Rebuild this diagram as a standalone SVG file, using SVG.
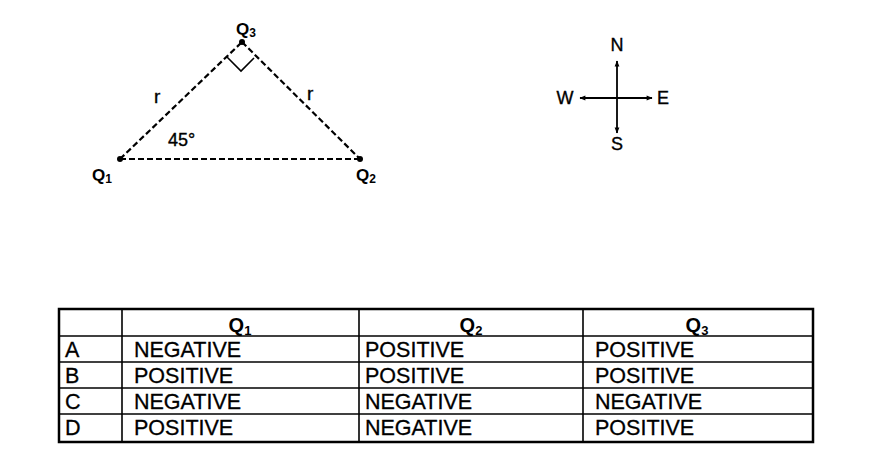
<svg xmlns="http://www.w3.org/2000/svg" width="874" height="455" viewBox="0 0 874 455">
<defs>
<style>
.lbl{font-family:"Liberation Sans",Arial,sans-serif;font-weight:bold;font-size:17px;fill:#000}
.sub{font-size:12px}
.txt{font-family:"Liberation Sans",Arial,sans-serif;font-size:18px;fill:#000;stroke:#000;stroke-width:0.35}
.dash{stroke:#000;stroke-width:2.2;stroke-dasharray:6,3;fill:none}
.cell{font-family:"Liberation Sans",Arial,sans-serif;font-size:21.5px;fill:#000;stroke:#000;stroke-width:0.3}
.hdr{font-family:"Liberation Sans",Arial,sans-serif;font-size:20px;font-weight:bold;fill:#000}
.grid{stroke:#000;stroke-width:1.6;fill:none}
.arr{stroke:#000;stroke-width:1.8;fill:none}
</style>
<marker id="ah" viewBox="0 0 10 10" refX="9" refY="5" markerWidth="7" markerHeight="6" orient="auto" markerUnits="userSpaceOnUse">
<path d="M0,1 L10,5 L0,9 z" fill="#000"/>
</marker>
</defs>
<rect width="874" height="455" fill="#fff"/>

<g id="triangle">
<g id="connectors">
<line class="dash" x1="120" y1="159" x2="242" y2="42"/>
<line class="dash" x1="242" y1="42" x2="360" y2="159"/>
<line class="dash" x1="120" y1="159" x2="360" y2="159"/>
<polyline points="227,57 241,71 254,58" fill="none" stroke="#000" stroke-width="1.6"/>
</g>
<g id="Q1"><circle cx="120" cy="159" r="3" fill="#000"/><text class="lbl" x="92" y="181">Q<tspan class="sub" dy="2">1</tspan></text></g>
<g id="Q2"><circle cx="360" cy="159" r="3" fill="#000"/><text class="lbl" x="356" y="181">Q<tspan class="sub" dy="2">2</tspan></text></g>
<g id="Q3"><circle cx="242" cy="42" r="3" fill="#000"/><text class="lbl" x="236" y="35">Q<tspan class="sub" dy="2">3</tspan></text></g>
<text class="txt" style="font-size:19px" x="154" y="103">r</text>
<text class="txt" style="font-size:19px" x="307" y="100">r</text>
<text class="txt" x="168" y="146">45°</text>
</g>

<g id="compass">
<line class="arr" x1="617" y1="98" x2="617" y2="61" marker-end="url(#ah)"/>
<line class="arr" x1="617" y1="98" x2="617" y2="133" marker-end="url(#ah)"/>
<line class="arr" x1="617" y1="98" x2="580" y2="98" marker-end="url(#ah)"/>
<line class="arr" x1="617" y1="98" x2="652" y2="98" marker-end="url(#ah)"/>
<text class="txt" x="617" y="51" text-anchor="middle">N</text>
<text class="txt" x="617" y="150" text-anchor="middle">S</text>
<text class="txt" x="565" y="104" text-anchor="middle">W</text>
<text class="txt" x="663" y="104" text-anchor="middle">E</text>
</g>

<g id="table">
<rect x="59" y="309" width="754" height="133" fill="none" stroke="#000" stroke-width="2.5"/>
<line class="grid" x1="59" y1="336" x2="813" y2="336" stroke-width="2"/>
<line class="grid" x1="59" y1="362" x2="813" y2="362"/>
<line class="grid" x1="59" y1="388" x2="813" y2="388"/>
<line class="grid" x1="59" y1="414" x2="813" y2="414"/>
<line class="grid" x1="122" y1="309" x2="122" y2="442"/>
<line class="grid" x1="359" y1="309" x2="359" y2="442"/>
<line class="grid" x1="583" y1="309" x2="583" y2="442"/>

<text class="hdr" x="240" y="332" text-anchor="middle">Q<tspan style="font-size:13px" dy="3">1</tspan></text>
<text class="hdr" x="471" y="332" text-anchor="middle">Q<tspan style="font-size:13px" dy="3">2</tspan></text>
<text class="hdr" x="697" y="332" text-anchor="middle">Q<tspan style="font-size:13px" dy="3">3</tspan></text>

<text class="cell" x="65" y="357">A</text>
<text class="cell" x="65" y="383">B</text>
<text class="cell" x="65" y="409">C</text>
<text class="cell" x="65" y="435">D</text>

<text class="cell" x="134" y="357">NEGATIVE</text>
<text class="cell" x="134" y="383">POSITIVE</text>
<text class="cell" x="134" y="409">NEGATIVE</text>
<text class="cell" x="134" y="435">POSITIVE</text>

<text class="cell" x="365" y="357">POSITIVE</text>
<text class="cell" x="365" y="383">POSITIVE</text>
<text class="cell" x="365" y="409">NEGATIVE</text>
<text class="cell" x="365" y="435">NEGATIVE</text>

<text class="cell" x="595" y="357">POSITIVE</text>
<text class="cell" x="595" y="383">POSITIVE</text>
<text class="cell" x="595" y="409">NEGATIVE</text>
<text class="cell" x="595" y="435">POSITIVE</text>
</g>
</svg>
